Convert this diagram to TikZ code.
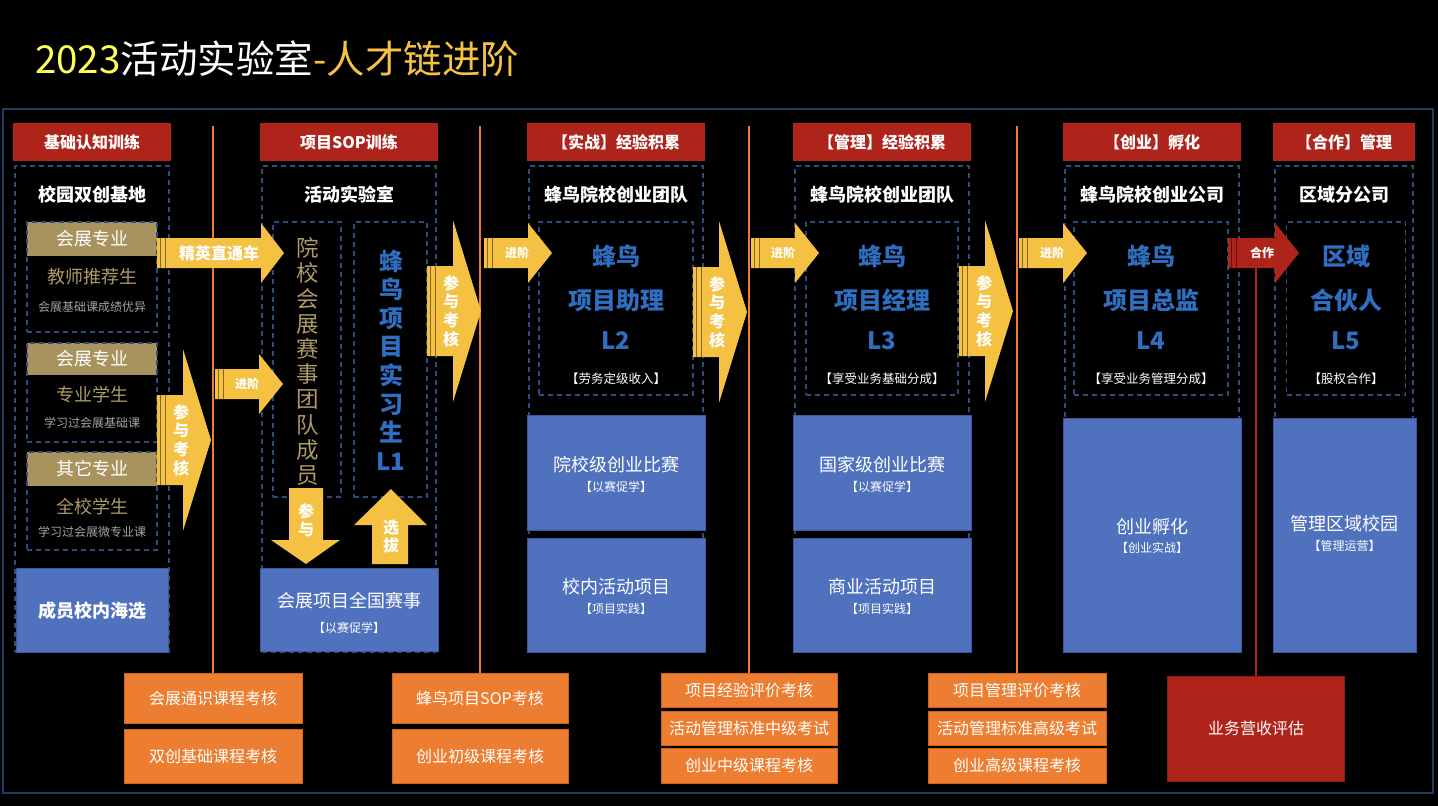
\documentclass[tikz,border=0pt]{standalone}
\usepackage{fontspec}
\setmainfont{Noto Sans CJK SC}

\definecolor{ttlyel}{HTML}{FFFF55}
\definecolor{gold}{HTML}{F5C243}
\definecolor{hdrred}{HTML}{AE231A}
\definecolor{framec}{HTML}{1F3A64}
\definecolor{dashblue}{HTML}{2F4B7C}
\definecolor{tanc}{HTML}{A8935F}
\definecolor{tantxt}{HTML}{AE9A66}
\definecolor{greytxt}{HTML}{A3A3A3}
\definecolor{boxblue}{HTML}{4F71BE}
\definecolor{edgeblue}{HTML}{3A5A9C}
\definecolor{lvlblue}{HTML}{2F6EC0}
\definecolor{arry}{HTML}{F4C142}
\definecolor{examor}{HTML}{ED7D31}
\definecolor{examedge}{HTML}{D0621C}

\newcommand\fsz[2]{\fontsize{#1}{#2}\selectfont}

% 块箭头: 颜色, 尾x, 颈x, 尖x, 中y, 身半高, 头半高
\newcommand\harrow[7][arry]{%
  \fill[#1] (#2,#5-#6) -- (#3,#5-#6) -- (#3,#5-#7) -- (#4,#5) -- (#3,#5+#7) -- (#3,#5+#6) -- (#2,#5+#6) -- cycle;
  \foreach \sx in {3,8} \draw[#1!55!black, line width=0.8] (#2+\sx,#5-#6) -- (#2+\sx,#5+#6);
}

\tikzset{
  hdr/.style={fill=hdrred, text=white, font=\fsz{16}{18}\bfseries, minimum height=38, inner sep=0},
  dbox/.style={draw=dashblue, line width=1.4, dash pattern=on 5pt off 4pt, inner sep=0},
  subt/.style={text=white, font=\fsz{18}{20}\bfseries, inner sep=0},
  tanhd/.style={fill=tanc, text=white, font=\fsz{18}{20}, minimum width=130, inner sep=0},
  tantx/.style={text=tantxt, font=\fsz{18}{20}, inner sep=0},
  greytx/.style={text=greytxt, font=\fsz{12}{14}, inner sep=0},
  lvl/.style={text=lvlblue, font=\fsz{24}{26}\bfseries, inner sep=0},
  tagtx/.style={text=white, font=\fsz{12.5}{14}, inner sep=0},
  blk/.style={fill=boxblue, draw=edgeblue, line width=1, inner sep=0},
  blktx/.style={text=white, font=\fsz{18}{20}, inner sep=0},
  exam/.style={fill=examor, draw=examedge, line width=0.8, text=white, font=\fsz{16}{18}, minimum width=176, inner sep=0},
  arrtx/.style={text=white, font=\fsz{16}{18}\bfseries, inner sep=0},
  smalltx/.style={text=white, font=\fsz{12}{14}\bfseries, inner sep=0},
  vtx/.style={text=white, font=\fsz{16}{18.7}\bfseries, align=center, inner sep=0},
  orline/.style={examor, line width=1.8},
}

\begin{document}
\begin{tikzpicture}[x=1pt, y=-1pt]
\useasboundingbox (0,0) rectangle (1438,806);
\fill[black] (0,0) rectangle (1438,806);
\node[anchor=west, inner sep=0, font=\fsz{38.5}{40}] (title) at (35,59)
  {\textcolor{ttlyel}{2023}\textcolor{white}{活动实验室}\textcolor{gold}{-人才链进阶}};
\draw[framec, line width=2] (3,109) rectangle (1433,793);

% 考核
\node[exam, minimum width=178, minimum height=50] (ex1-1) at (213,698) {会展通识课程考核};
\node[exam, minimum width=178, minimum height=54] (ex1-2) at (213,756) {双创基础课程考核};
\node[exam, minimum height=50] (ex2-1) at (480,698) {蜂鸟项目SOP考核};
\node[exam, minimum height=54] (ex2-2) at (480,756) {创业初级课程考核};
\foreach \n/\x/\w/\ta/\tb/\tc in {3/749/176/项目经验评价考核/活动管理标准中级考试/创业中级课程考核,
                                  4/1017/178/项目管理评价考核/活动管理标准高级考试/创业高级课程考核}
{
  \node[exam, minimum width=\w, minimum height=34] (ex\n-1) at (\x,690) {\ta};
  \node[exam, minimum width=\w, minimum height=34] (ex\n-2) at (\x,728) {\tb};
  \node[exam, minimum width=\w, minimum height=35] (ex\n-3) at (\x,765.5) {\tc};
}
\node[fill=hdrred, draw=hdrred!80!black, text=white, font=\fsz{16}{18}, minimum width=177, minimum height=105, inner sep=0] (rev) at (1256,728.5) {业务营收评估};

% 竖线
\foreach \n/\x in {1/213, 2/480, 3/749, 4/1017}
{
  \coordinate (top\n) at (\x,126);
  \draw[orline] (top\n) -- (ex\n-1.north);
}
\coordinate (rtop) at (1256,253);
\draw[hdrred, line width=1.8] (rtop) -- (rev.north);

% 六列
\foreach \n/\x/\w/\hd/\sb in {1/92/158/基础认知训练/校园双创基地, 2/349/178/项目SOP训练/活动实验室,
    3/616/178/【实战】经验积累/蜂鸟院校创业团队, 4/882/178/【管理】经验积累/蜂鸟院校创业团队,
    5/1152/178/【创业】孵化/蜂鸟院校创业公司, 6/1344/142/【合作】管理/区域分公司}
{
  \node[hdr, minimum width=\w] (h\n) at (\x,142) {\hd};
  \node[dbox, minimum width=\w-4, minimum height=486] (d\n) at (\x,409) {};
  \node[subt] (s\n) at (\x,195) {\sb};
}

% 第一列: 生源
\foreach \n/\ya/\yb/\yh/\hd/\ta/\tb/\yta/\ytb in {1/222/332/256/会展专业/教师推荐生/会展基础课成绩优异/277/307,
    2/343/442/375/会展专业/专业学生/学习过会展基础课/395/423,
    3/452/550/486/其它专业/全校学生/学习过会展微专业课/507/532}
{
  \node[tanhd, minimum height=\yh-\ya] (lh\n) at (92,{(\ya+\yh)/2}) {\hd};
  \node[dbox, minimum width=130, minimum height=\yb-\ya] (lb\n) at (92,{(\ya+\yb)/2}) {};
  \node[tantx] (lm\n) at (92,\yta) {\ta};
  \node[greytx] (ls\n) at (92,\ytb) {\tb};
}
\node[blk, minimum width=152, minimum height=84] (b1) at (92,610) {};
\node[blktx, font=\fsz{18}{20}\bfseries] (b1t) at (92,611) {成员校内海选};

% 第二列
\node[dbox, minimum width=68, minimum height=275] (va) at (307,359.5) {};
\node[dbox, minimum width=73, minimum height=275] (vb) at (390.5,359.5) {};
\node[vtx, text=tantxt, font=\fsz{22.5}{25.2}] (vat) at (308,361.5) {院\\校\\会\\展\\赛\\事\\团\\队\\成\\员};
\node[vtx, text=lvlblue, font=\fsz{24}{28.6}\bfseries] (vbt) at (391,360) {蜂\\鸟\\项\\目\\实\\习\\生\\L1};
\node[blk, minimum width=178, minimum height=83] (b2) at (349,609.5) {};
\node[blktx] (b2t) at (349,601) {会展项目全国赛事};
\node[tagtx, font=\fsz{12}{14}] (b2s) at (349,628) {【以赛促学】};

% 第三至六列: 级别
\foreach \n/\x/\w/\ta/\tb/\lv/\tg in {3/616/154/蜂鸟/项目助理/L2/【劳务定级收入】,
    4/882/152/蜂鸟/项目经理/L3/【享受业务基础分成】,
    5/1151/154/蜂鸟/项目总监/L4/【享受业务管理分成】,
    6/1346/119/区域/合伙人/L5/【股权合作】}
{
  \node[dbox, minimum width=\w, minimum height=173] (lv\n) at (\x,308.5) {};
  \node[lvl] (lv\n-a) at (\x,256) {\ta};
  \node[lvl] (lv\n-b) at (\x,300) {\tb};
  \node[lvl] (lv\n-c) at (\x,341) {\lv};
  \node[tagtx] (lv\n-d) at (\x,379) {\tg};
}

% 蓝色平台
\foreach \n/\x/\ta/\tb/\tc/\td in {3/616/院校级创业比赛/【以赛促学】/校内活动项目/【项目实践】,
    4/882/国家级创业比赛/【以赛促学】/商业活动项目/【项目实践】}
{
  \node[blk, minimum width=178, minimum height=115] (b\n-1) at (\x,473) {};
  \node[blk, minimum width=178, minimum height=114] (b\n-2) at (\x,595) {};
  \node[blktx] at (\x,465) {\ta};
  \node[tagtx, font=\fsz{12}{14}] at (\x,487) {\tb};
  \node[blktx] at (\x,587) {\tc};
  \node[tagtx, font=\fsz{12}{14}] at (\x,609) {\td};
}
\node[blk, minimum width=178, minimum height=234] (b5) at (1152,535) {};
\node[blktx] (b5t) at (1152,527) {创业孵化};
\node[tagtx, font=\fsz{12}{14}] (b5s) at (1152,548) {【创业实战】};
\node[blk, minimum width=143, minimum height=234] (b6) at (1344.5,535) {};
\node[blktx] (b6t) at (1344.5,524) {管理区域校园};
\node[tagtx, font=\fsz{12}{14}] (b6s) at (1344.5,546) {【管理运营】};

% 箭头
\harrow{157}{261}{284}{253}{15}{30}
\node[arrtx] (elite) at (219,253) {精英直通车};
\foreach \xo/\yc/\tx in {215/384/247, 484/253/517, 751/253/783, 1019/253/1052}
{
  \harrow{\xo}{\xo+44}{\xo+68}{\yc}{15}{30}
  \node[smalltx] (jj\xo) at (\tx,\yc) {进阶};
}
\foreach \xo/\yc/\tx in {157/440/181, 427/311/451, 693/312/717, 959/311/984}
{
  \harrow{\xo}{\xo+26}{\xo+54}{\yc}{45}{91}
  \node[vtx] (jk\xo) at (\tx,\yc) {参\\与\\考\\核};
}
\harrow[hdrred]{1228}{1275}{1299}{253}{15}{30}
\node[smalltx] (coop) at (1262,253) {合作};

% 上下箭头
\fill[arry] (289,488) -- (323,488) -- (323,540) -- (340,540) -- (306,564) -- (271,540) -- (289,540) -- cycle;
\node[vtx, font=\fsz{16}{17.7}\bfseries] (cy) at (306,520) {参\\与};
\fill[arry] (372,564) -- (408,564) -- (408,525) -- (427,525) -- (391,489) -- (354,525) -- (372,525) -- cycle;
\node[vtx, font=\fsz{16}{18}\bfseries] (xb) at (391,536) {选\\拔};
\end{tikzpicture}
\end{document}
